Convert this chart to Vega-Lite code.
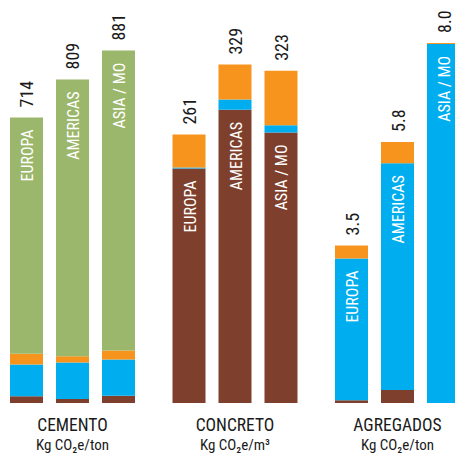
{
  "$schema": "https://vega.github.io/schema/vega-lite/v6.json",
  "width": 455,
  "height": 360,
  "autosize": "none",
  "padding": {"left": 0, "top": 43, "right": 0, "bottom": 50},
  "background": "white",
  "config": {
    "view": {"stroke": null},
    "font": "Roboto Condensed, DejaVu Sans Condensed, Noto Sans Condensed, Open Sans Condensed, Roboto, sans-serif",
    "text": {"font": "Roboto Condensed, DejaVu Sans Condensed, Noto Sans Condensed, Open Sans Condensed, Roboto, sans-serif"},
    "axis": {"labelFont": "Roboto Condensed, DejaVu Sans Condensed, Noto Sans Condensed, Open Sans Condensed, Roboto, sans-serif"}
  },
  "data": {
    "values": [
      {"group": "CEMENTO", "region": "EUROPA", "seg": "A", "value": 17},
      {"group": "CEMENTO", "region": "EUROPA", "seg": "B", "value": 79},
      {"group": "CEMENTO", "region": "EUROPA", "seg": "C", "value": 27},
      {"group": "CEMENTO", "region": "EUROPA", "seg": "D", "value": 591},
      {"group": "CEMENTO", "region": "AMERICAS", "seg": "A", "value": 10},
      {"group": "CEMENTO", "region": "AMERICAS", "seg": "B", "value": 91},
      {"group": "CEMENTO", "region": "AMERICAS", "seg": "C", "value": 16},
      {"group": "CEMENTO", "region": "AMERICAS", "seg": "D", "value": 692},
      {"group": "CEMENTO", "region": "ASIA / MO", "seg": "A", "value": 18},
      {"group": "CEMENTO", "region": "ASIA / MO", "seg": "B", "value": 91},
      {"group": "CEMENTO", "region": "ASIA / MO", "seg": "C", "value": 22},
      {"group": "CEMENTO", "region": "ASIA / MO", "seg": "D", "value": 750},
      {"group": "CONCRETO", "region": "EUROPA", "seg": "A", "value": 228},
      {"group": "CONCRETO", "region": "EUROPA", "seg": "B", "value": 1},
      {"group": "CONCRETO", "region": "EUROPA", "seg": "C", "value": 32},
      {"group": "CONCRETO", "region": "AMERICAS", "seg": "A", "value": 285},
      {"group": "CONCRETO", "region": "AMERICAS", "seg": "B", "value": 10},
      {"group": "CONCRETO", "region": "AMERICAS", "seg": "C", "value": 34},
      {"group": "CONCRETO", "region": "ASIA / MO", "seg": "A", "value": 263},
      {"group": "CONCRETO", "region": "ASIA / MO", "seg": "B", "value": 7},
      {"group": "CONCRETO", "region": "ASIA / MO", "seg": "C", "value": 53},
      {"group": "AGREGADOS", "region": "EUROPA", "seg": "A", "value": 0.06},
      {"group": "AGREGADOS", "region": "EUROPA", "seg": "B", "value": 3.15},
      {"group": "AGREGADOS", "region": "EUROPA", "seg": "C", "value": 0.29},
      {"group": "AGREGADOS", "region": "AMERICAS", "seg": "A", "value": 0.29},
      {"group": "AGREGADOS", "region": "AMERICAS", "seg": "B", "value": 5.04},
      {"group": "AGREGADOS", "region": "AMERICAS", "seg": "C", "value": 0.47},
      {"group": "AGREGADOS", "region": "ASIA / MO", "seg": "B", "value": 7.98},
      {"group": "AGREGADOS", "region": "ASIA / MO", "seg": "C", "value": 0.02}
    ]
  },
  "layer": [
    {
      "transform": [
        {"filter": "datum.group === 'CEMENTO'"},
        {"stack": "value", "groupby": ["region"], "sort": [{"field": "seg", "order": "ascending"}], "as": ["v0", "v1"]}
      ],
      "encoding": {
        "x": {
          "field": "group", "type": "nominal",
          "scale": {"domain": ["CEMENTO", "CONCRETO", "AGREGADOS"], "range": [10, 460], "paddingInner": 0.2308, "paddingOuter": 0},
          "axis": {"orient": "bottom", "domain": false, "ticks": false, "labelPadding": 13.5, "labelFontSize": 17.5, "labelColor": "#1a1a1a", "labelAngle": 0, "title": null, "labelOverlap": false}
        },
        "xOffset": {
          "field": "region", "type": "nominal",
          "scale": {"domain": ["EUROPA", "AMERICAS", "ASIA / MO"], "paddingInner": 0.2826, "paddingOuter": 0}
        }
      },
      "layer": [
        {
          "mark": {"type": "bar"},
          "encoding": {
            "y": {"field": "v0", "type": "quantitative", "scale": {"domain": [0, 885]}, "axis": null},
            "y2": {"field": "v1"},
            "color": {"field": "seg", "type": "nominal", "scale": {"domain": ["A", "B", "C", "D"], "range": ["#7e3f2c", "#00aeef", "#f7941d", "#9bb76b"]}, "legend": null}
          }
        },
        {
          "transform": [{"aggregate": [{"op": "max", "field": "v1", "as": "tot"}], "groupby": ["group", "region"]}],
          "mark": {"type": "text", "angle": 270, "align": "left", "baseline": "middle", "dx": 10, "dy": 2, "fontSize": 18, "color": "#1a1a1a"},
          "encoding": {
            "y": {"field": "tot", "type": "quantitative", "axis": null},
            "text": {"field": "tot", "type": "quantitative", "format": ".0f"}
          }
        },
        {
          "transform": [{"joinaggregate": [{"op": "max", "field": "value", "as": "mx"}], "groupby": ["region"]}, {"filter": "datum.value === datum.mx"}],
          "mark": {"type": "text", "angle": 270, "align": "right", "baseline": "middle", "dx": -12, "dy": 1.5, "fontSize": 16, "color": "white"},
          "encoding": {
            "y": {"field": "v1", "type": "quantitative", "axis": null},
            "text": {"field": "region", "type": "nominal"}
          }
        }
      ]
    },
    {
      "transform": [
        {"filter": "datum.group === 'CONCRETO'"},
        {"stack": "value", "groupby": ["region"], "sort": [{"field": "seg", "order": "ascending"}], "as": ["v0", "v1"]}
      ],
      "encoding": {
        "x": {
          "field": "group", "type": "nominal",
          "scale": {"domain": ["CEMENTO", "CONCRETO", "AGREGADOS"], "range": [10, 460], "paddingInner": 0.2308, "paddingOuter": 0},
          "axis": {"orient": "bottom", "domain": false, "ticks": false, "labelPadding": 34.5, "labelFontSize": 15, "labelColor": "#1a1a1a", "labelAngle": 0, "title": null, "labelOverlap": false,
                   "labelExpr": "datum.value === 'CONCRETO' ? 'Kg CO₂e/m³' : 'Kg CO₂e/ton'"}
        },
        "xOffset": {
          "field": "region", "type": "nominal",
          "scale": {"domain": ["EUROPA", "AMERICAS", "ASIA / MO"], "paddingInner": 0.2826, "paddingOuter": 0}
        }
      },
      "layer": [
        {
          "mark": {"type": "bar"},
          "encoding": {
            "y": {"field": "v0", "type": "quantitative", "scale": {"domain": [0, 349.4]}, "axis": null},
            "y2": {"field": "v1"},
            "color": {"field": "seg", "type": "nominal", "scale": {"domain": ["A", "B", "C", "D"], "range": ["#7e3f2c", "#00aeef", "#f7941d", "#9bb76b"]}, "legend": null}
          }
        },
        {
          "transform": [{"aggregate": [{"op": "max", "field": "v1", "as": "tot"}], "groupby": ["group", "region"]}],
          "mark": {"type": "text", "angle": 270, "align": "left", "baseline": "middle", "dx": 10, "dy": 2, "fontSize": 18, "color": "#1a1a1a"},
          "encoding": {
            "y": {"field": "tot", "type": "quantitative", "axis": null},
            "text": {"field": "tot", "type": "quantitative", "format": ".0f"}
          }
        },
        {
          "transform": [{"joinaggregate": [{"op": "max", "field": "value", "as": "mx"}], "groupby": ["region"]}, {"filter": "datum.value === datum.mx"}],
          "mark": {"type": "text", "angle": 270, "align": "right", "baseline": "middle", "dx": -12, "dy": 1.5, "fontSize": 16, "color": "white"},
          "encoding": {
            "y": {"field": "v1", "type": "quantitative", "axis": null},
            "text": {"field": "region", "type": "nominal"}
          }
        }
      ]
    },
    {
      "transform": [
        {"filter": "datum.group === 'AGREGADOS'"},
        {"stack": "value", "groupby": ["region"], "sort": [{"field": "seg", "order": "ascending"}], "as": ["v0", "v1"]}
      ],
      "encoding": {
        "x": {
          "field": "group", "type": "nominal",
          "scale": {"domain": ["CEMENTO", "CONCRETO", "AGREGADOS"], "range": [10, 460], "paddingInner": 0.2308, "paddingOuter": 0},
          "axis": null
        },
        "xOffset": {
          "field": "region", "type": "nominal",
          "scale": {"domain": ["EUROPA", "AMERICAS", "ASIA / MO"], "paddingInner": 0.2826, "paddingOuter": 0}
        }
      },
      "layer": [
        {
          "mark": {"type": "bar"},
          "encoding": {
            "y": {"field": "v0", "type": "quantitative", "scale": {"domain": [0, 8.0]}, "axis": null},
            "y2": {"field": "v1"},
            "color": {"field": "seg", "type": "nominal", "scale": {"domain": ["A", "B", "C", "D"], "range": ["#7e3f2c", "#00aeef", "#f7941d", "#9bb76b"]}, "legend": null}
          }
        },
        {
          "transform": [{"aggregate": [{"op": "max", "field": "v1", "as": "tot"}], "groupby": ["group", "region"]}],
          "mark": {"type": "text", "angle": 270, "align": "left", "baseline": "middle", "dx": 10, "dy": 2, "fontSize": 18, "color": "#1a1a1a"},
          "encoding": {
            "y": {"field": "tot", "type": "quantitative", "axis": null},
            "text": {"field": "tot", "type": "quantitative", "format": ".1f"}
          }
        },
        {
          "transform": [{"joinaggregate": [{"op": "max", "field": "value", "as": "mx"}], "groupby": ["region"]}, {"filter": "datum.value === datum.mx"}],
          "mark": {"type": "text", "angle": 270, "align": "right", "baseline": "middle", "dx": -12, "dy": 1.5, "fontSize": 16, "color": "white"},
          "encoding": {
            "y": {"field": "v1", "type": "quantitative", "axis": null},
            "text": {"field": "region", "type": "nominal"}
          }
        }
      ]
    }
  ],
  "resolve": {"scale": {"y": "independent", "color": "shared"}, "axis": {"x": "independent"}}
}
